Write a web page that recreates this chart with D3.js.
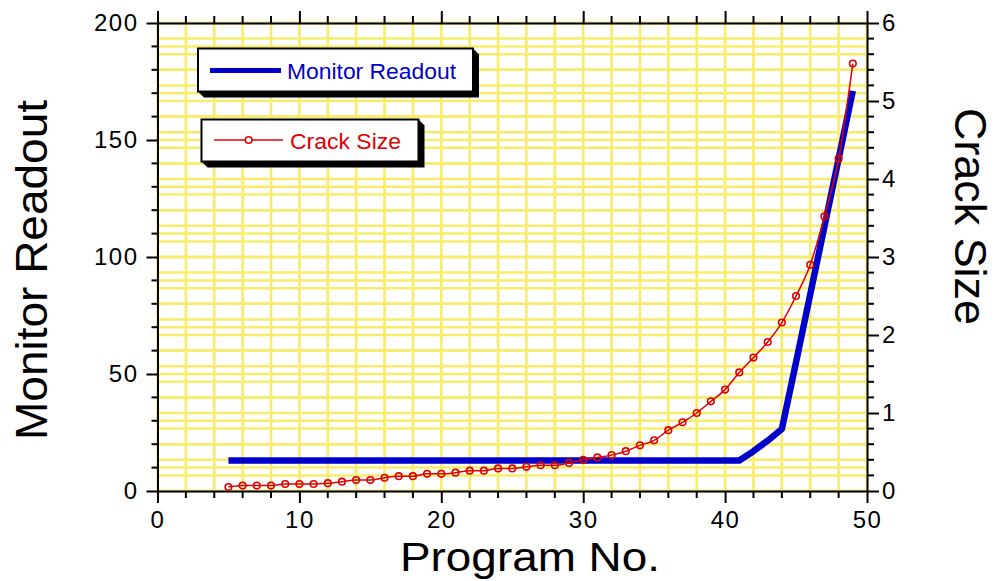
<!DOCTYPE html>
<html><head><meta charset="utf-8">
<script src="https://cdn.jsdelivr.net/npm/d3@7"></script>
<style>
html,body{margin:0;padding:0;background:#fff;}
svg{display:block;font-family:Arial,"Liberation Sans",sans-serif;}
</style></head>
<body>
<svg id="chart" width="997" height="581"></svg>
<script>
// ---------- data ----------
const programNo = [5,6,7,8,9,10,11,12,13,14,15,16,17,18,19,20,21,22,23,24,25,26,27,28,29,30,31,32,33,34,35,36,37,38,39,40,41,42,43,44,45,46,47,48,49];
const monitorReadout = [13,13,13,13,13,13,13,13,13,13,13,13,13,13,13,13,13,13,13,13,13,13,13,13,13,13,13,13,13,13,13,13,13,13,13,13,13,17,21.5,26.5,55,84,113,142,171];
const crackSize = [0.05,0.07,0.07,0.07,0.09,0.09,0.09,0.10,0.12,0.14,0.14,0.17,0.19,0.19,0.22,0.22,0.235,0.26,0.26,0.29,0.29,0.31,0.33,0.33,0.36,0.40,0.43,0.46,0.51,0.585,0.65,0.78,0.88,1.00,1.15,1.30,1.52,1.71,1.91,2.16,2.50,2.90,3.52,4.26,5.48];
const xTicks = [0,10,20,30,40,50];
const yLeftTicks = [0,50,100,150,200];
const yRightTicks = [0,1,2,3,4,5,6];
const seriesNames = ["Monitor Readout","Crack Size"];
const axisTitles = {x:"Program No.", yLeft:"Monitor Readout", yRight:"Crack Size"};

// ---------- layout ----------
const L = 157.5, R = 867, T = 23, B = 491;
const svg = d3.select("#chart");
const x = d3.scaleLinear().domain([0,50]).range([L,R]);
const yL = d3.scaleLinear().domain([0,200]).range([B,T]);
const yR = d3.scaleLinear().domain([0,6]).range([B,T]);

const gridColor = "#f8ec6a";
// grid
const grid = svg.append("g");
const vGrid = d3.range(0,51,2);
grid.selectAll("line.v").data(vGrid).join("line")
  .attr("x1",d=>x(d)).attr("x2",d=>x(d)).attr("y1",T).attr("y2",B)
  .attr("stroke",gridColor).attr("stroke-width",2.6);
const hL = d3.range(0,201,10), hR = d3.range(0,31,1).map(i=>i*0.2);
grid.selectAll("line.hl").data(hL).join("line")
  .attr("x1",L).attr("x2",R).attr("y1",d=>yL(d)).attr("y2",d=>yL(d))
  .attr("stroke",gridColor).attr("stroke-width",2.5);
grid.selectAll("line.hr").data(hR).join("line")
  .attr("x1",L).attr("x2",R).attr("y1",d=>yR(d)).attr("y2",d=>yR(d))
  .attr("stroke",gridColor).attr("stroke-width",2.5);

// ---------- axes ----------
function styleAxis(g){
  g.selectAll("path.domain").attr("stroke","#000").attr("stroke-width",2);
  g.selectAll(".tick line").attr("stroke","#000").attr("stroke-width",2);
  g.selectAll("text").attr("fill","#000").style("font-size","24px")
   .style("font-family",'Arial,"Liberation Sans",sans-serif');
}
function minor(scale, vals, orient, len){
  const gg = svg.append("g");
  vals.forEach(v=>{
    const p = scale(v);
    let l = gg.append("line").attr("stroke","#000").attr("stroke-width",2);
    if(orient==="bottom") l.attr("x1",p).attr("x2",p).attr("y1",B).attr("y2",B+len);
    if(orient==="top") l.attr("x1",p).attr("x2",p).attr("y1",T).attr("y2",T-len);
    if(orient==="left") l.attr("x1",L).attr("x2",L-len).attr("y1",p).attr("y2",p);
    if(orient==="right") l.attr("x1",R).attr("x2",R+len).attr("y1",p).attr("y2",p);
  });
}
minor(x, d3.range(0,51,2).filter(d=>d%10), "bottom", 7);
minor(x, d3.range(0,51,2).filter(d=>d%10), "top", 7);
minor(yL, d3.range(0,201,10).filter(d=>d%50), "left", 6);
minor(yR, d3.range(0,31,1).filter(i=>i%5).map(i=>i*0.2), "right", 7);

const gx = svg.append("g").attr("transform",`translate(0,${B})`)
  .call(d3.axisBottom(x).tickValues(xTicks).tickSize(12).tickPadding(8).tickSizeOuter(0));
styleAxis(gx);
const gt = svg.append("g").attr("transform",`translate(0,${T})`)
  .call(d3.axisTop(x).tickValues(xTicks).tickSize(12).tickFormat("").tickSizeOuter(0));
styleAxis(gt);
const gl = svg.append("g").attr("transform",`translate(${L},0)`)
  .call(d3.axisLeft(yL).tickValues(yLeftTicks).tickSize(11).tickPadding(8).tickSizeOuter(0));
styleAxis(gl);
const gr = svg.append("g").attr("transform",`translate(${R},0)`)
  .call(d3.axisRight(yR).tickValues(yRightTicks).tickFormat(d3.format("d")).tickSize(12).tickPadding(3).tickSizeOuter(0));
styleAxis(gr);
[gx,gl,gr].forEach(g=>g.selectAll("text").attr("letter-spacing","1.5px"));

// ---------- series ----------
const blue = "#0000cc", red = "#e00000";
const blueLine = d3.line().x((d,i)=>x(programNo[i])).y(d=>yL(d));
svg.append("path").datum(monitorReadout).attr("d",blueLine)
  .attr("fill","none").attr("stroke",blue).attr("stroke-width",6.5).attr("stroke-linejoin","round");

const redLine = d3.line().x((d,i)=>x(programNo[i])).y(d=>yR(d)).curve(d3.curveMonotoneX);
svg.append("path").datum(crackSize).attr("d",redLine)
  .attr("fill","none").attr("stroke",red).attr("stroke-width",1.5);
svg.append("g").selectAll("circle").data(crackSize).join("circle")
  .attr("cx",(d,i)=>x(programNo[i])).attr("cy",d=>yR(d)).attr("r",3.3)
  .attr("fill","none").attr("stroke",red).attr("stroke-width",1.6);

// ---------- legends ----------
function legendBox(x1,y1,x2,y2){
  const d=6;
  svg.append("polygon")
    .attr("points",`${x2},${y1} ${x2+d},${y1+d} ${x2+d},${y2+d} ${x1+d},${y2+d} ${x1},${y2}`)
    .attr("fill","#000");
  svg.append("rect").attr("x",x1).attr("y",y1).attr("width",x2-x1).attr("height",y2-y1)
    .attr("fill","#fff").attr("stroke","#000").attr("stroke-width",2);
}
legendBox(198,48.5,473,91.5);
svg.append("line").attr("x1",210).attr("x2",281).attr("y1",70.5).attr("y2",70.5)
  .attr("stroke",blue).attr("stroke-width",5);
svg.append("text").attr("x",287).attr("y",78.5).text(seriesNames[0])
  .attr("fill",blue).style("font-size","21.5px")
  .attr("textLength",169).attr("lengthAdjust","spacingAndGlyphs");

legendBox(201.5,119.5,418.5,161.5);
svg.append("line").attr("x1",214).attr("x2",283).attr("y1",140).attr("y2",140)
  .attr("stroke",red).attr("stroke-width",1.5);
svg.append("circle").attr("cx",248.7).attr("cy",140).attr("r",3.3)
  .attr("fill","#fff").attr("stroke",red).attr("stroke-width",1.6);
svg.append("text").attr("x",290).attr("y",148.5).text(seriesNames[1])
  .attr("fill",red).style("font-size","21.5px")
  .attr("textLength",111).attr("lengthAdjust","spacingAndGlyphs");

// ---------- axis titles ----------
svg.append("text").attr("x",400).attr("y",571)
  .style("font-size","41px").attr("fill","#000").text(axisTitles.x)
  .attr("textLength",260).attr("lengthAdjust","spacingAndGlyphs");
svg.append("text").attr("transform",`translate(47,440) rotate(-90)`)
  .style("font-size","44px").attr("fill","#000").text(axisTitles.yLeft)
  .attr("textLength",340).attr("lengthAdjust","spacingAndGlyphs");
svg.append("text").attr("transform",`translate(955,108) rotate(90)`)
  .style("font-size","44px").attr("fill","#000").text(axisTitles.yRight)
  .attr("textLength",217).attr("lengthAdjust","spacingAndGlyphs");
</script>
</body></html>
